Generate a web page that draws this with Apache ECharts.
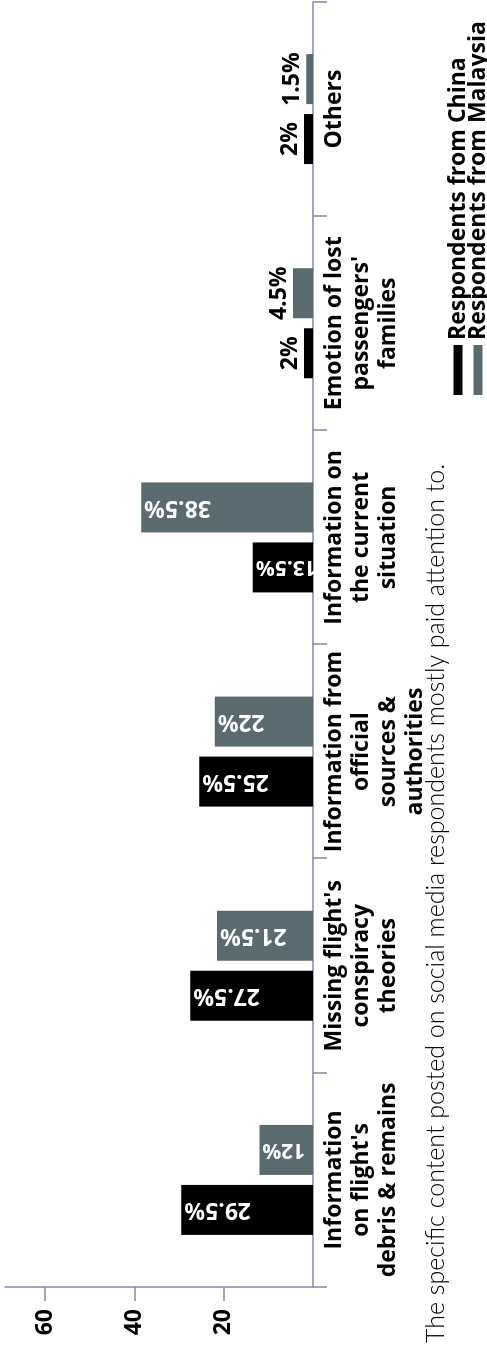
<!DOCTYPE html>
<html>
<head>
<meta charset="utf-8">
<script src="https://cdn.jsdelivr.net/npm/echarts@6/dist/echarts.min.js"></script>
<style>
  html, body { margin: 0; padding: 0; background: #fff; overflow: hidden; }
  body { width: 487px; height: 1346px; position: relative; }
  #chart {
    position: absolute; left: 0; top: 0;
    width: 1346px; height: 487px;
    transform-origin: 0 0;
    transform: translateY(1346px) rotate(-90deg);
  }
</style>
</head>
<body>
<div id="chart"></div>
<script>
const categories = [
  "Information\non flight's\ndebris & remains",
  "Missing flight's\nconspiracy\ntheories",
  "Information from\nofficial\nsources &\nauthorities",
  "Information on\nthe current\nsituation",
  "Emotion of lost\npassengers'\nfamilies",
  "Others"
];
const seriesNames = ["Respondents from China", "Respondents from Malaysia"];
const chinaValues = [29.5, 27.5, 25.5, 13.5, 2, 2];
const malaysiaValues = [12, 21.5, 22, 38.5, 4.5, 1.5];
const valueTicks = [20, 40, 60];
const titleText = "The specific content posted on social media respondents mostly paid attention to.";

const AXIS = '#8686ae';
const BOLD = '"Open Sans", "DejaVu Sans", sans-serif';

function buildData(values) {
  return values.map(v => {
    if (v < 5) {
      return { value: v, label: { position: 'top', rotate: 0, distance: 2, color: '#000',
        align: 'center', verticalAlign: 'bottom' } };
    }
    if (v < 15) {
      return { value: v, label: { fontSize: 21 } };
    }
    return { value: v };
  });
}

const insideLabel = {
  show: true,
  position: 'insideTop',
  rotate: 90,
  align: 'right',
  verticalAlign: 'middle',
  distance: 3,
  color: '#fff',
  fontFamily: BOLD,
  fontWeight: 'bold',
  fontSize: 23,
  formatter: '{c}%'
};

const legendText = { fontFamily: BOLD, fontWeight: 'bold', fontSize: 23, color: '#000', lineHeight: 24, padding: [0, 0, 12, 0] };

const chart = echarts.init(document.getElementById('chart'), null, { renderer: 'canvas' });
chart.setOption({
  backgroundColor: '#fff',
  animation: false,
  title: {
    text: titleText,
    left: 3,
    top: 423,
    padding: 0,
    textStyle: { fontFamily: 'Lato, "Open Sans", sans-serif', fontWeight: 300, fontSize: 25, color: '#000' }
  },
  legend: [
    {
      data: [seriesNames[0]],
      left: 951, top: 440,
      orient: 'vertical', padding: 0,
      itemWidth: 50, itemHeight: 9, icon: 'rect',
      selectedMode: false,
      textStyle: legendText
    },
    {
      data: [seriesNames[1]],
      left: 951, top: 460,
      orient: 'vertical', padding: 0,
      itemWidth: 50, itemHeight: 9, icon: 'rect',
      selectedMode: false,
      textStyle: legendText
    }
  ],
  grid: { left: 59, right: 2, top: 5, bottom: 174, containLabel: false },
  xAxis: {
    type: 'category',
    data: categories,
    axisLine: { show: true, lineStyle: { color: AXIS, width: 1.5 } },
    axisTick: { show: true, length: 14, lineStyle: { color: AXIS, width: 1.5 } },
    axisLabel: {
      interval: 0, margin: 8,
      fontFamily: BOLD, fontWeight: 'bold', fontSize: 23, lineHeight: 27, color: '#000'
    }
  },
  yAxis: {
    type: 'value',
    min: 0, max: 69,
    splitLine: { show: false },
    axisLine: { show: true, lineStyle: { color: AXIS, width: 1.5 } },
    axisTick: { show: true, length: 14, customValues: valueTicks, lineStyle: { color: AXIS, width: 1.5 } },
    axisLabel: {
      customValues: valueTicks, margin: 22,
      fontFamily: BOLD, fontWeight: 'bold', fontSize: 23, color: '#000'
    }
  },
  series: [
    {
      name: seriesNames[0], type: 'bar',
      barWidth: 50, barGap: '20%',
      itemStyle: { color: '#000000' },
      label: insideLabel,
      data: buildData(chinaValues)
    },
    {
      name: seriesNames[1], type: 'bar',
      barWidth: 50, barGap: '20%',
      itemStyle: { color: '#5a6a6f' },
      label: insideLabel,
      data: buildData(malaysiaValues)
    }
  ]
});
</script>
</body>
</html>
